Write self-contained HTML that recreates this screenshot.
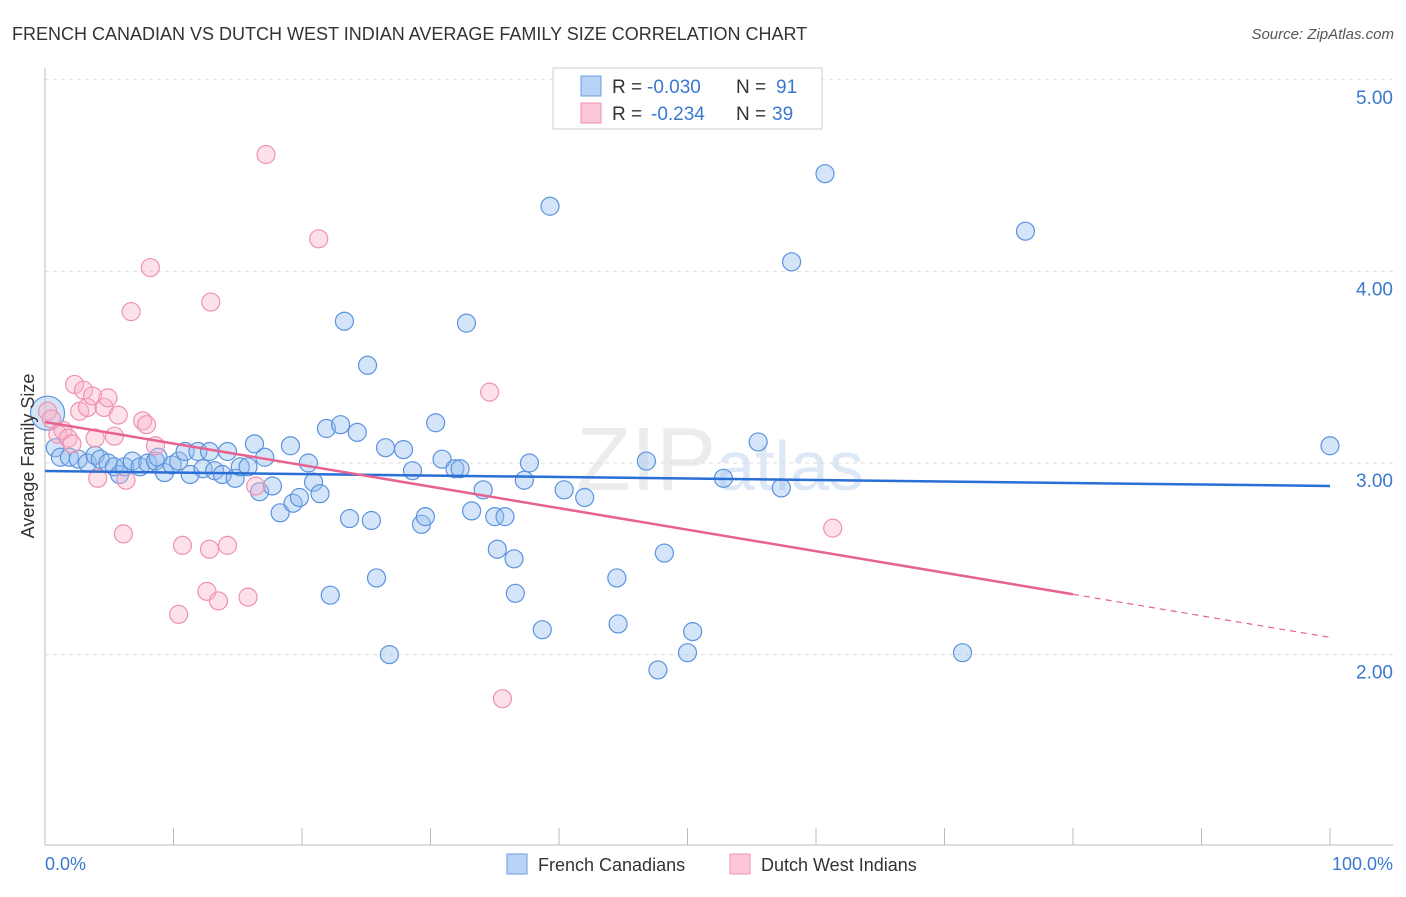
<!DOCTYPE html>
<html><head><meta charset="utf-8"><style>
body{margin:0;background:#fff;font-family:"Liberation Sans",sans-serif;}
svg text{font-family:"Liberation Sans",sans-serif;}
</style></head><body>
<svg id="chart" width="1406" height="892">
<text x="12" y="40" font-size="18" fill="#333">FRENCH CANADIAN VS DUTCH WEST INDIAN AVERAGE FAMILY SIZE CORRELATION CHART</text>
<text x="1394" y="39" font-size="15" fill="#555" font-style="italic" text-anchor="end">Source: ZipAtlas.com</text>
<text x="720" y="490" font-size="90" fill="#ececee" text-anchor="middle" font-family="Liberation Serif">ZIP<tspan font-family="Liberation Sans" fill="#dde8f6" font-size="70">atlas</tspan></text>
<g id="grid"></g><g id="axes"></g><g id="pts"></g><g id="lines"></g>
<text transform="translate(34,456) rotate(-90)" font-size="18" fill="#333" text-anchor="middle">Average Family Size</text>
<text x="45" y="870" font-size="18" fill="#3a78d0">0.0%</text>
<text x="1393" y="870" font-size="18" fill="#3a78d0" text-anchor="end">100.0%</text>
<g>
<rect x="553" y="68" width="269" height="61" fill="#fff" stroke="#ccc"/>
<rect x="581" y="76" width="20" height="20" fill="#b8d3f5" stroke="#6a9de0"/>
<rect x="581" y="103" width="20" height="20" fill="#fcc8d7" stroke="#ee8fae"/>
<text y="93" font-size="19" fill="#333"><tspan x="612">R =</tspan><tspan x="647" fill="#3a78d0">-0.030</tspan><tspan x="736">N =</tspan><tspan x="776" fill="#3a78d0">91</tspan></text>
<text y="120" font-size="19" fill="#333"><tspan x="612">R =</tspan><tspan x="651" fill="#3a78d0">-0.234</tspan><tspan x="736">N =</tspan><tspan x="772" fill="#3a78d0">39</tspan></text>
</g>
<g>
<rect x="507" y="854" width="20" height="20" fill="#b8d3f5" stroke="#6a9de0"/>
<text x="538" y="871" font-size="18" fill="#333">French Canadians</text>
<rect x="730" y="854" width="20" height="20" fill="#fcc8d7" stroke="#ee8fae"/>
<text x="761" y="871" font-size="18" fill="#333">Dutch West Indians</text>
</g>
</svg>
<script>
const blueX=[0.2,0.8,1.2,1.9,2.6,3.3,3.9,4.3,4.9,5.4,5.8,6.2,6.8,7.4,8.0,8.6,8.8,9.3,9.9,10.4,10.9,11.3,11.9,12.3,12.8,13.2,13.8,14.2,14.8,15.2,15.8,16.3,16.7,17.1,17.7,18.3,19.1,19.3,19.8,20.5,20.9,21.4,21.9,22.2,23.0,23.3,23.7,24.3,25.1,25.4,25.8,26.5,26.8,27.9,28.6,29.3,29.6,30.4,30.9,31.9,32.3,32.8,33.2,34.1,35.0,35.2,35.8,36.5,36.6,37.3,37.7,38.7,39.3,40.4,42.0,44.5,44.6,46.8,47.7,48.2,50.0,50.4,52.8,55.5,57.3,58.1,60.7,71.4,76.3,100];
const blueY=[3.26,3.08,3.03,3.03,3.02,3.00,3.04,3.02,3.00,2.98,2.94,2.98,3.01,2.98,3.00,3.01,3.03,2.95,2.99,3.01,3.06,2.94,3.06,2.97,3.06,2.96,2.94,3.06,2.92,2.98,2.98,3.10,2.85,3.03,2.88,2.74,3.09,2.79,2.82,3.00,2.90,2.84,3.18,2.31,3.20,3.74,2.71,3.16,3.51,2.70,2.40,3.08,2.00,3.07,2.96,2.68,2.72,3.21,3.02,2.97,2.97,3.73,2.75,2.86,2.72,2.55,2.72,2.50,2.32,2.91,3.00,2.13,4.34,2.86,2.82,2.40,2.16,3.01,1.92,2.53,2.01,2.12,2.92,3.11,2.87,4.05,4.51,2.01,4.21,3.09];
const pinkX=[0.2,0.5,1.0,1.4,1.8,2.1,2.3,2.7,3.0,3.3,3.7,3.9,4.1,4.6,4.9,5.4,5.7,6.1,6.3,6.7,7.6,7.9,8.2,8.6,10.4,10.7,12.6,12.8,12.9,13.5,14.2,15.8,16.4,17.2,21.3,34.6,35.6,61.3];
const pinkY=[3.27,3.23,3.15,3.17,3.13,3.10,3.41,3.27,3.38,3.29,3.35,3.13,2.92,3.29,3.34,3.14,3.25,2.63,2.91,3.79,3.22,3.20,4.02,3.09,2.21,2.57,2.33,2.55,3.84,2.28,2.57,2.30,2.88,4.61,4.17,3.37,1.77,2.66];
const blueTrend=[2.958,2.880];
const pinkTrend=[3.214,2.09];
const yTicks=[2,3,4,5];
const NS="http://www.w3.org/2000/svg";
const sx=v=>45+v*12.85;
const sy=v=>463-(v-3)*191.6;
function mk(tag,attrs,parent){const e=document.createElementNS(NS,tag);for(const k in attrs)e.setAttribute(k,attrs[k]);document.getElementById(parent).appendChild(e);return e;}
yTicks.forEach(t=>{
 const g=mk('line',{x1:45,x2:1393,y1:sy(t),y2:sy(t),stroke:'#ddd','stroke-dasharray':'4,4'},'grid');
 
 
 const tx=mk('text',{x:1393,y:sy(t)+24,'font-size':19,fill:'#3a78d0','text-anchor':'end'},'grid');
 tx.textContent=t.toFixed(2);
 
 
});
const ax=mk('line',{x1:45,x2:45,y1:68,y2:845,stroke:'#bbb'},'axes');


const bx=mk('line',{x1:45,x2:1393,y1:845,y2:845,stroke:'#bbb'},'axes');


for(let i=0;i<=10;i++){const t=mk('line',{x1:sx(i*10),x2:sx(i*10),y1:828,y2:845,stroke:'#bbb'},'axes');
 
 }
blueX.forEach((x,i)=>{const c=mk('circle',{cx:sx(x),cy:sy(blueY[i]),r:i==0?17:9,fill:'rgba(150,190,240,0.4)',stroke:'#5b93dd','stroke-width':1.2},'pts');
 
 });
pinkX.forEach((x,i)=>{const c=mk('circle',{cx:sx(x),cy:sy(pinkY[i]),r:9,fill:'rgba(250,180,200,0.4)',stroke:'#ef92b0','stroke-width':1.2},'pts');
 
 });
const bl=mk('line',{x1:sx(0),y1:sy(blueTrend[0]),x2:sx(100),y2:sy(blueTrend[1]),stroke:'#2a6fd6','stroke-width':2.5},'lines');


const pm=v=>pinkTrend[0]+(pinkTrend[1]-pinkTrend[0])*v/100;
const pl=mk('line',{x1:sx(0),y1:sy(pm(0)),x2:sx(80),y2:sy(pm(80)),stroke:'#e8628f','stroke-width':2.5},'lines');


const pd=mk('line',{x1:sx(80),y1:sy(pm(80)),x2:sx(100),y2:sy(pm(100)),stroke:'#e8628f','stroke-width':1.2,'stroke-dasharray':'6,5'},'lines');


</script>
</body></html>
